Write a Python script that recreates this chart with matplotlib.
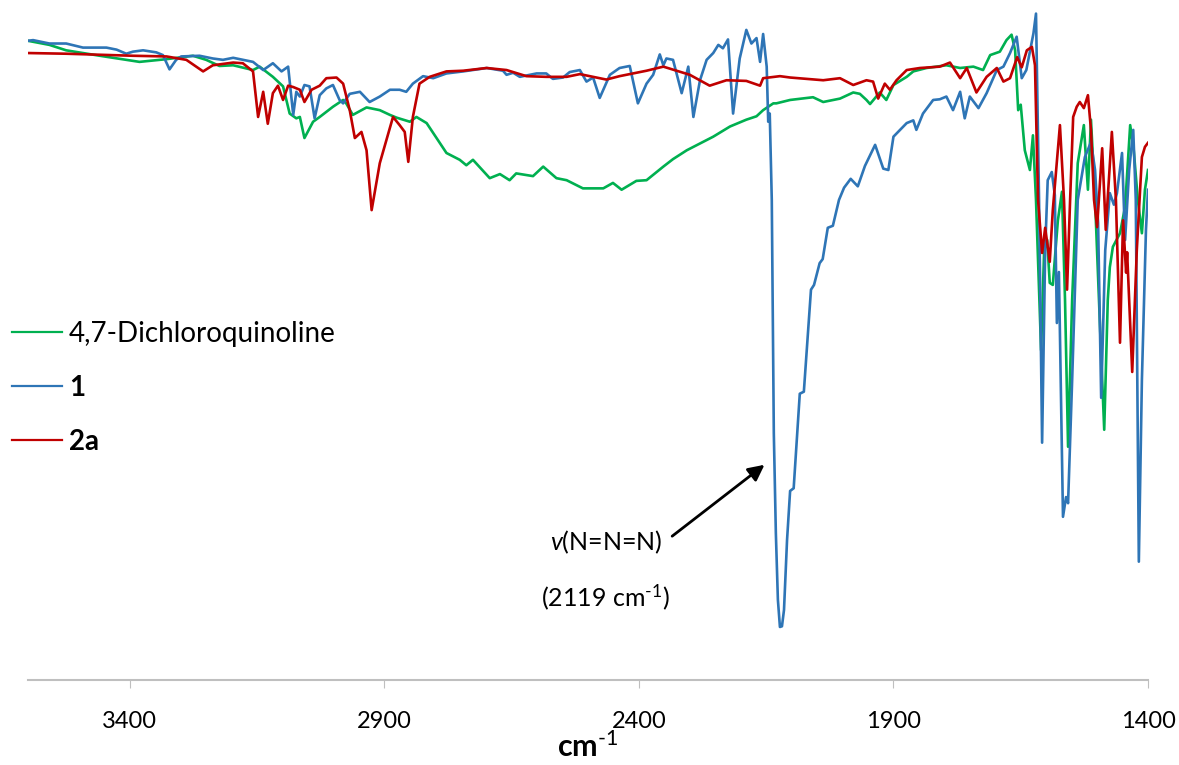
import numpy as np
import matplotlib
matplotlib.use("Agg")
import matplotlib.pyplot as plt

plt.rcParams['font.family'] = ['Lato', 'DejaVu Sans']
plt.rcParams['mathtext.fontset'] = 'custom'
plt.rcParams['mathtext.rm'] = 'Lato'
plt.rcParams['mathtext.it'] = 'Lato:italic'
plt.rcParams['mathtext.bf'] = 'Lato:bold'

# 4,7-Dichloroquinoline (wavenumber, %T)
dcq_wn = [3600, 3558, 3525, 3459, 3381, 3328, 3276, 3250, 3224, 3197, 3158, 3145, 3119, 3099,
          3086, 3073, 3066, 3057, 3040, 3027, 3001, 2981, 2975, 2962, 2935, 2909, 2889, 2876,
          2850, 2837, 2817, 2778, 2752, 2739, 2726, 2693, 2673, 2654, 2641, 2608, 2588, 2562,
          2542, 2510, 2470, 2451, 2434, 2405, 2385, 2352, 2333, 2306, 2280, 2254, 2221, 2189,
          2169, 2156, 2136, 2130, 2103, 2058, 2038, 2005, 1979, 1966, 1953, 1946, 1927, 1914,
          1900, 1874, 1861, 1835, 1796, 1769, 1743, 1724, 1710, 1691, 1678, 1668, 1661, 1655,
          1650, 1642, 1632, 1626, 1620, 1610, 1604, 1598, 1593, 1587, 1577, 1569, 1563, 1557,
          1549, 1538, 1526, 1518, 1512, 1504, 1494, 1486, 1479, 1475, 1469, 1455, 1445, 1435,
          1428, 1420, 1412, 1406, 1400]
dcq_t = [94.0, 93.4, 92.6, 91.8, 90.9, 91.3, 91.8, 91.2, 90.3, 90.4, 89.7, 90.2, 88.7, 87.3,
         83.3, 82.6, 82.8, 79.7, 82.1, 82.8, 84.3, 85.3, 84.8, 83.1, 84.2, 83.8, 83.1, 82.7,
         82.1, 82.8, 81.9, 77.5, 76.5, 75.7, 76.5, 73.8, 74.4, 73.5, 74.5, 74.1, 75.5, 73.8,
         73.5, 72.3, 72.3, 73.1, 72.1, 73.4, 73.5, 75.5, 76.6, 77.9, 78.9, 79.9, 81.4, 82.4,
         82.9, 83.8, 84.8, 84.8, 85.3, 85.7, 85.0, 85.5, 86.4, 86.2, 85.3, 84.7, 86.4, 85.3,
         87.5, 88.7, 89.5, 90.0, 90.4, 90.0, 90.2, 89.7, 91.9, 92.4, 94.1, 94.9, 92.6, 83.8,
         84.6, 77.9, 75.0, 80.1, 70.6, 48.5, 63.2, 64.7, 58.4, 58.1, 67.6, 71.8, 55.9, 34.3,
         55.9, 76.0, 81.6, 72.1, 82.4, 70.6, 51.5, 36.8, 55.9, 60.7, 63.7, 65.7, 69.6, 81.6,
         77.9, 70.6, 65.7, 72.1, 75.0]

# compound 1
c1_wn = [3600, 3590, 3558, 3525, 3492, 3446, 3426, 3407, 3394, 3374, 3348, 3335, 3322, 3309,
         3299, 3263, 3237, 3217, 3197, 3158, 3138, 3119, 3102, 3089, 3079, 3073, 3066, 3057,
         3047, 3037, 3027, 3014, 3001, 2988, 2981, 2968, 2948, 2929, 2909, 2889, 2870, 2857,
         2844, 2824, 2804, 2778, 2745, 2699, 2667, 2660, 2647, 2634, 2601, 2582, 2569, 2549,
         2536, 2516, 2503, 2490, 2477, 2457, 2438, 2418, 2402, 2385, 2372, 2359, 2352, 2346,
         2333, 2316, 2303, 2293, 2280, 2267, 2254, 2244, 2235, 2225, 2215, 2202, 2189, 2179,
         2169, 2162, 2156, 2149, 2146, 2143, 2139, 2135, 2131, 2127, 2123, 2119, 2115, 2109,
         2103, 2096, 2084, 2076, 2062, 2056, 2045, 2039, 2029, 2019, 2007, 1997, 1984, 1970,
         1956, 1936, 1920, 1910, 1900, 1874, 1861, 1855, 1842, 1822, 1809, 1796, 1783, 1769,
         1760, 1750, 1733, 1717, 1697, 1684, 1671, 1658, 1648, 1639, 1625, 1620, 1614, 1608,
         1602, 1597, 1589, 1583, 1579, 1575, 1567, 1561, 1557, 1549, 1538, 1524, 1512, 1504,
         1498, 1492, 1484, 1475, 1467, 1461, 1451, 1445, 1437, 1429, 1424, 1418, 1412, 1404,
         1400]
c1_t = [94.0, 94.1, 93.6, 93.6, 93.0, 93.0, 92.7, 92.1, 92.4, 92.6, 92.3, 91.9, 89.8, 91.2,
        91.7, 91.8, 91.4, 91.2, 91.5, 90.9, 89.7, 90.7, 89.5, 90.2, 83.1, 86.5, 85.8, 87.5,
        87.3, 82.6, 86.0, 87.0, 87.5, 85.3, 84.8, 86.2, 86.5, 85.0, 85.8, 86.8, 86.8, 86.5,
        87.7, 88.8, 88.5, 89.2, 89.5, 90.0, 89.6, 89.0, 89.3, 88.7, 89.2, 89.2, 88.4, 88.6,
        89.4, 89.7, 88.0, 88.6, 85.6, 89.0, 90.0, 90.3, 84.8, 87.7, 89.0, 92.0, 90.4, 91.4,
        91.2, 86.3, 90.2, 82.8, 88.2, 91.2, 92.2, 93.4, 92.9, 94.2, 83.3, 91.4, 95.6, 93.6,
        94.4, 90.9, 95.0, 90.2, 82.1, 83.3, 70.6, 36.3, 21.6, 11.8, 7.8, 7.9, 10.3, 20.6,
        27.8, 28.2, 42.1, 42.4, 57.4, 58.1, 61.3, 61.9, 66.5, 66.8, 70.6, 72.4, 73.7, 72.6,
        75.6, 78.7, 75.2, 75.0, 79.9, 81.9, 82.3, 80.9, 83.3, 85.3, 85.4, 85.8, 83.8, 86.5,
        82.6, 85.8, 84.1, 86.3, 89.7, 90.2, 92.2, 94.6, 88.5, 89.7, 95.1, 98.0, 70.6, 34.9,
        63.2, 73.5, 74.7, 71.3, 52.5, 60.0, 24.0, 26.9, 26.0, 44.1, 70.6, 76.9, 79.1, 75.0,
        67.2, 41.5, 63.2, 71.6, 69.9, 71.6, 77.5, 64.7, 75.0, 80.9, 70.6, 17.4, 44.1, 66.2,
        72.1]

# compound 2a
c2a_wn = [3600, 3525, 3394, 3328, 3289, 3256, 3237, 3197, 3178, 3158, 3148, 3138, 3129, 3119,
          3109, 3099, 3089, 3079, 3066, 3057, 3043, 3027, 3014, 2994, 2981, 2968, 2958, 2945,
          2935, 2925, 2909, 2883, 2870, 2860, 2853, 2844, 2831, 2811, 2778, 2745, 2699, 2660,
          2621, 2582, 2542, 2516, 2464, 2438, 2385, 2352, 2326, 2300, 2261, 2228, 2189, 2162,
          2156, 2123, 2103, 2038, 2005, 1979, 1953, 1940, 1930, 1917, 1907, 1894, 1874, 1848,
          1809, 1789, 1769, 1756, 1737, 1717, 1697, 1684, 1671, 1657, 1648, 1638, 1628, 1622,
          1616, 1608, 1602, 1593, 1587, 1573, 1565, 1559, 1553, 1547, 1540, 1534, 1526, 1518,
          1512, 1506, 1500, 1490, 1483, 1471, 1463, 1455, 1449, 1443, 1441, 1431, 1422, 1412,
          1406, 1400]
c2a_t = [92.2, 92.1, 91.8, 91.7, 91.2, 89.5, 90.4, 90.8, 90.7, 89.5, 82.8, 86.5, 81.8, 86.3,
         87.4, 85.3, 87.4, 87.2, 86.8, 85.0, 86.8, 87.4, 88.5, 88.6, 87.7, 83.8, 79.7, 80.6,
         77.9, 69.1, 76.0, 82.8, 81.6, 80.6, 76.2, 82.8, 87.7, 88.7, 89.5, 89.6, 90.0, 89.7,
         88.8, 88.7, 88.7, 89.1, 88.3, 88.8, 89.6, 90.2, 89.6, 89.0, 87.4, 88.2, 88.1, 87.4,
         88.5, 88.8, 88.6, 88.2, 88.5, 87.5, 88.2, 88.0, 85.5, 87.7, 86.8, 88.2, 89.7, 90.0,
         90.2, 90.8, 88.5, 90.0, 86.4, 88.7, 90.0, 88.0, 88.5, 91.6, 90.1, 92.6, 93.1, 90.4,
         70.6, 62.8, 66.5, 61.5, 69.1, 81.6, 70.6, 57.4, 70.6, 82.8, 84.3, 85.0, 84.1, 86.0,
         80.9, 70.6, 66.6, 78.2, 66.2, 80.6, 70.6, 49.6, 67.6, 59.9, 62.9, 45.3, 63.2, 76.9,
         78.4, 79.0]

xticks = [3400, 2900, 2400, 1900, 1400]

fig = plt.figure(figsize=(11.79, 7.65), dpi=100)
ax = fig.add_axes([28 / 1179, 85 / 765, 1120 / 1179, 680 / 765])

l1, = ax.plot(dcq_wn, dcq_t, color='#00B050', lw=1.9, label='4,7-Dichloroquinoline')
l2, = ax.plot(c1_wn, c1_t, color='#2E75B6', lw=1.9, label='1')
l3, = ax.plot(c2a_wn, c2a_t, color='#C00000', lw=1.9, label='2a')

ax.set_xlim(3600, 1400)
ax.set_ylim(0, 100)
ax.set_xticks(xticks)
ax.set_yticks([])
for s in ['left', 'right', 'top']:
    ax.spines[s].set_visible(False)
ax.spines['bottom'].set_color('#bfbfbf')
ax.spines['bottom'].set_linewidth(1.5)
ax.tick_params(axis='x', direction='out', length=6, width=0.8, color='#bfbfbf',
               labelsize=17, pad=16, labelcolor='black')
ax.set_xlabel(r'cm$^{\text{-1}}$', fontsize=22, fontweight='bold', labelpad=0)

leg = fig.legend(handles=[l1, l2, l3], loc='center left', bbox_to_anchor=(12 / 1179, 377 / 765),
                 frameon=False, fontsize=20, borderpad=0, borderaxespad=0,
                 handlelength=1.8, handletextpad=0.25, labelspacing=1.0)
for h in leg.get_lines():
    h.set_linewidth(1.6)
leg.get_texts()[1].set_fontweight('bold')
leg.get_texts()[2].set_fontweight('bold')

ax.annotate('', xy=(2149, 31.9), xytext=(2339, 20.9),
            arrowprops=dict(arrowstyle='-|>', color='black', lw=2, mutation_scale=24))
ax.text(2465, 20.3, r'$\mathit{v}$(N=N=N)', fontsize=18, ha='center', va='center')
ax.text(2465, 12.2, r'(2119 cm$^{\text{-1}}$)', fontsize=18, ha='center', va='center')

fig.savefig('out.png', dpi=100)
